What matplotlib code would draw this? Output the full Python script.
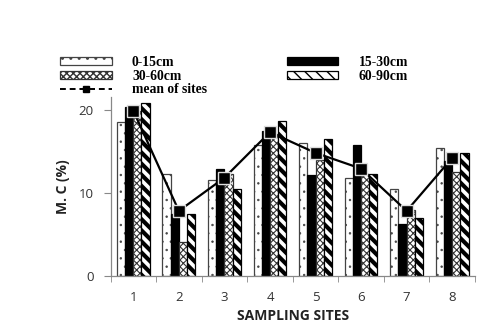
import matplotlib
matplotlib.use("Agg")
import matplotlib.pyplot as plt
import numpy as np
from matplotlib.lines import Line2D

sites = ["1", "2", "3", "4", "5", "6", "7", "8"]
depth_labels = ["0-15cm", "15-30cm", "30-60cm", "60-90cm"]
d0_15 = [18.5, 12.2, 11.5, 15.8, 16.0, 11.8, 10.4, 15.4]
d15_30 = [20.3, 7.4, 12.8, 17.4, 12.1, 15.8, 6.2, 13.8]
d30_60 = [19.9, 4.1, 12.2, 17.1, 14.0, 12.2, 7.9, 12.5]
d60_90 = [20.8, 7.4, 10.4, 18.6, 16.5, 12.2, 6.9, 14.8]
mean_sites = [19.9, 7.8, 11.8, 17.3, 14.8, 12.9, 7.8, 14.2]

fig = plt.figure(figsize=(5, 3.3), dpi=100)
ax = fig.add_axes([0.221, 0.165, 0.729, 0.54])

x = np.arange(1, len(sites) + 1)
w = 0.18
offs = [-1.5 * w, -0.5 * w, 0.5 * w, 1.5 * w]

with plt.rc_context({"hatch.linewidth": 0.5}):
    b1 = ax.bar(x + offs[0], d0_15, w, facecolor="white", edgecolor="#444444",
                hatch="..", linewidth=0.9)
b2 = ax.bar(x + offs[1], d15_30, w, facecolor="black", edgecolor="black", linewidth=0.9)
with plt.rc_context({"hatch.linewidth": 0.8}):
    b3 = ax.bar(x + offs[2], d30_60, w, facecolor="white", edgecolor="#333333",
                hatch="xxxxx", linewidth=0.9)
with plt.rc_context({"hatch.linewidth": 3.0}):
    b4 = ax.bar(x + offs[3], d60_90, w, facecolor="white", edgecolor="black",
                hatch="\\\\\\", linewidth=0.9)

ax.plot(x, mean_sites, color="black", lw=1.6, marker="s", ms=8.5,
        mfc="black", mec="#dddddd", mew=1.0, zorder=5)

ax.set_xlim(0.5, 8.5)
ax.set_ylim(0, 21.5)
ax.set_yticks([0, 10, 20])
ax.set_xticks(x)
ax.set_xticklabels(sites)
ax.set_xticks(np.arange(0.5, 8.6, 1), minor=True)
ax.tick_params(axis="x", which="major", length=0, pad=11, labelsize=9.5, colors="#333333")
ax.tick_params(axis="x", which="minor", length=4, direction="out", color="#888888")
ax.tick_params(axis="y", length=5, direction="out", color="#888888", labelsize=9.5,
               labelcolor="#333333", pad=7)
for lab in ax.get_xticklabels() + ax.get_yticklabels():
    lab.set_family("Open Sans")
for s in ["top", "right"]:
    ax.spines[s].set_visible(False)
for s in ["left", "bottom"]:
    ax.spines[s].set_color("#888888")
    ax.spines[s].set_linewidth(0.9)

ax.set_xlabel("SAMPLING SITES", family="Open Sans", fontweight="bold", fontsize=10,
              color="#222222", labelpad=4)
ax.set_ylabel("M. C (%)", family="Open Sans", fontweight="bold", fontsize=10,
              color="#222222", labelpad=6)

mean_handle = Line2D([], [], color="black", lw=1.4, ls=(0, (3, 2)), marker="s", ms=4,
                     mfc="black", mec="black")
h = [b1[0], b3[0], mean_handle, b2[0], b4[0]]
l = [depth_labels[0], depth_labels[2], "mean of sites", depth_labels[1], depth_labels[3]]
leg = fig.legend(h, l, ncol=2, loc="upper left", bbox_to_anchor=(0.106, 0.851),
                 frameon=False, prop={"family": "Liberation Serif", "weight": "bold", "size": 9.8},
                 handlelength=3.8, handleheight=0.5, columnspacing=5.85,
                 labelspacing=0.05, handletextpad=1.5, borderpad=0)

fig.savefig("out.png", dpi=100)
